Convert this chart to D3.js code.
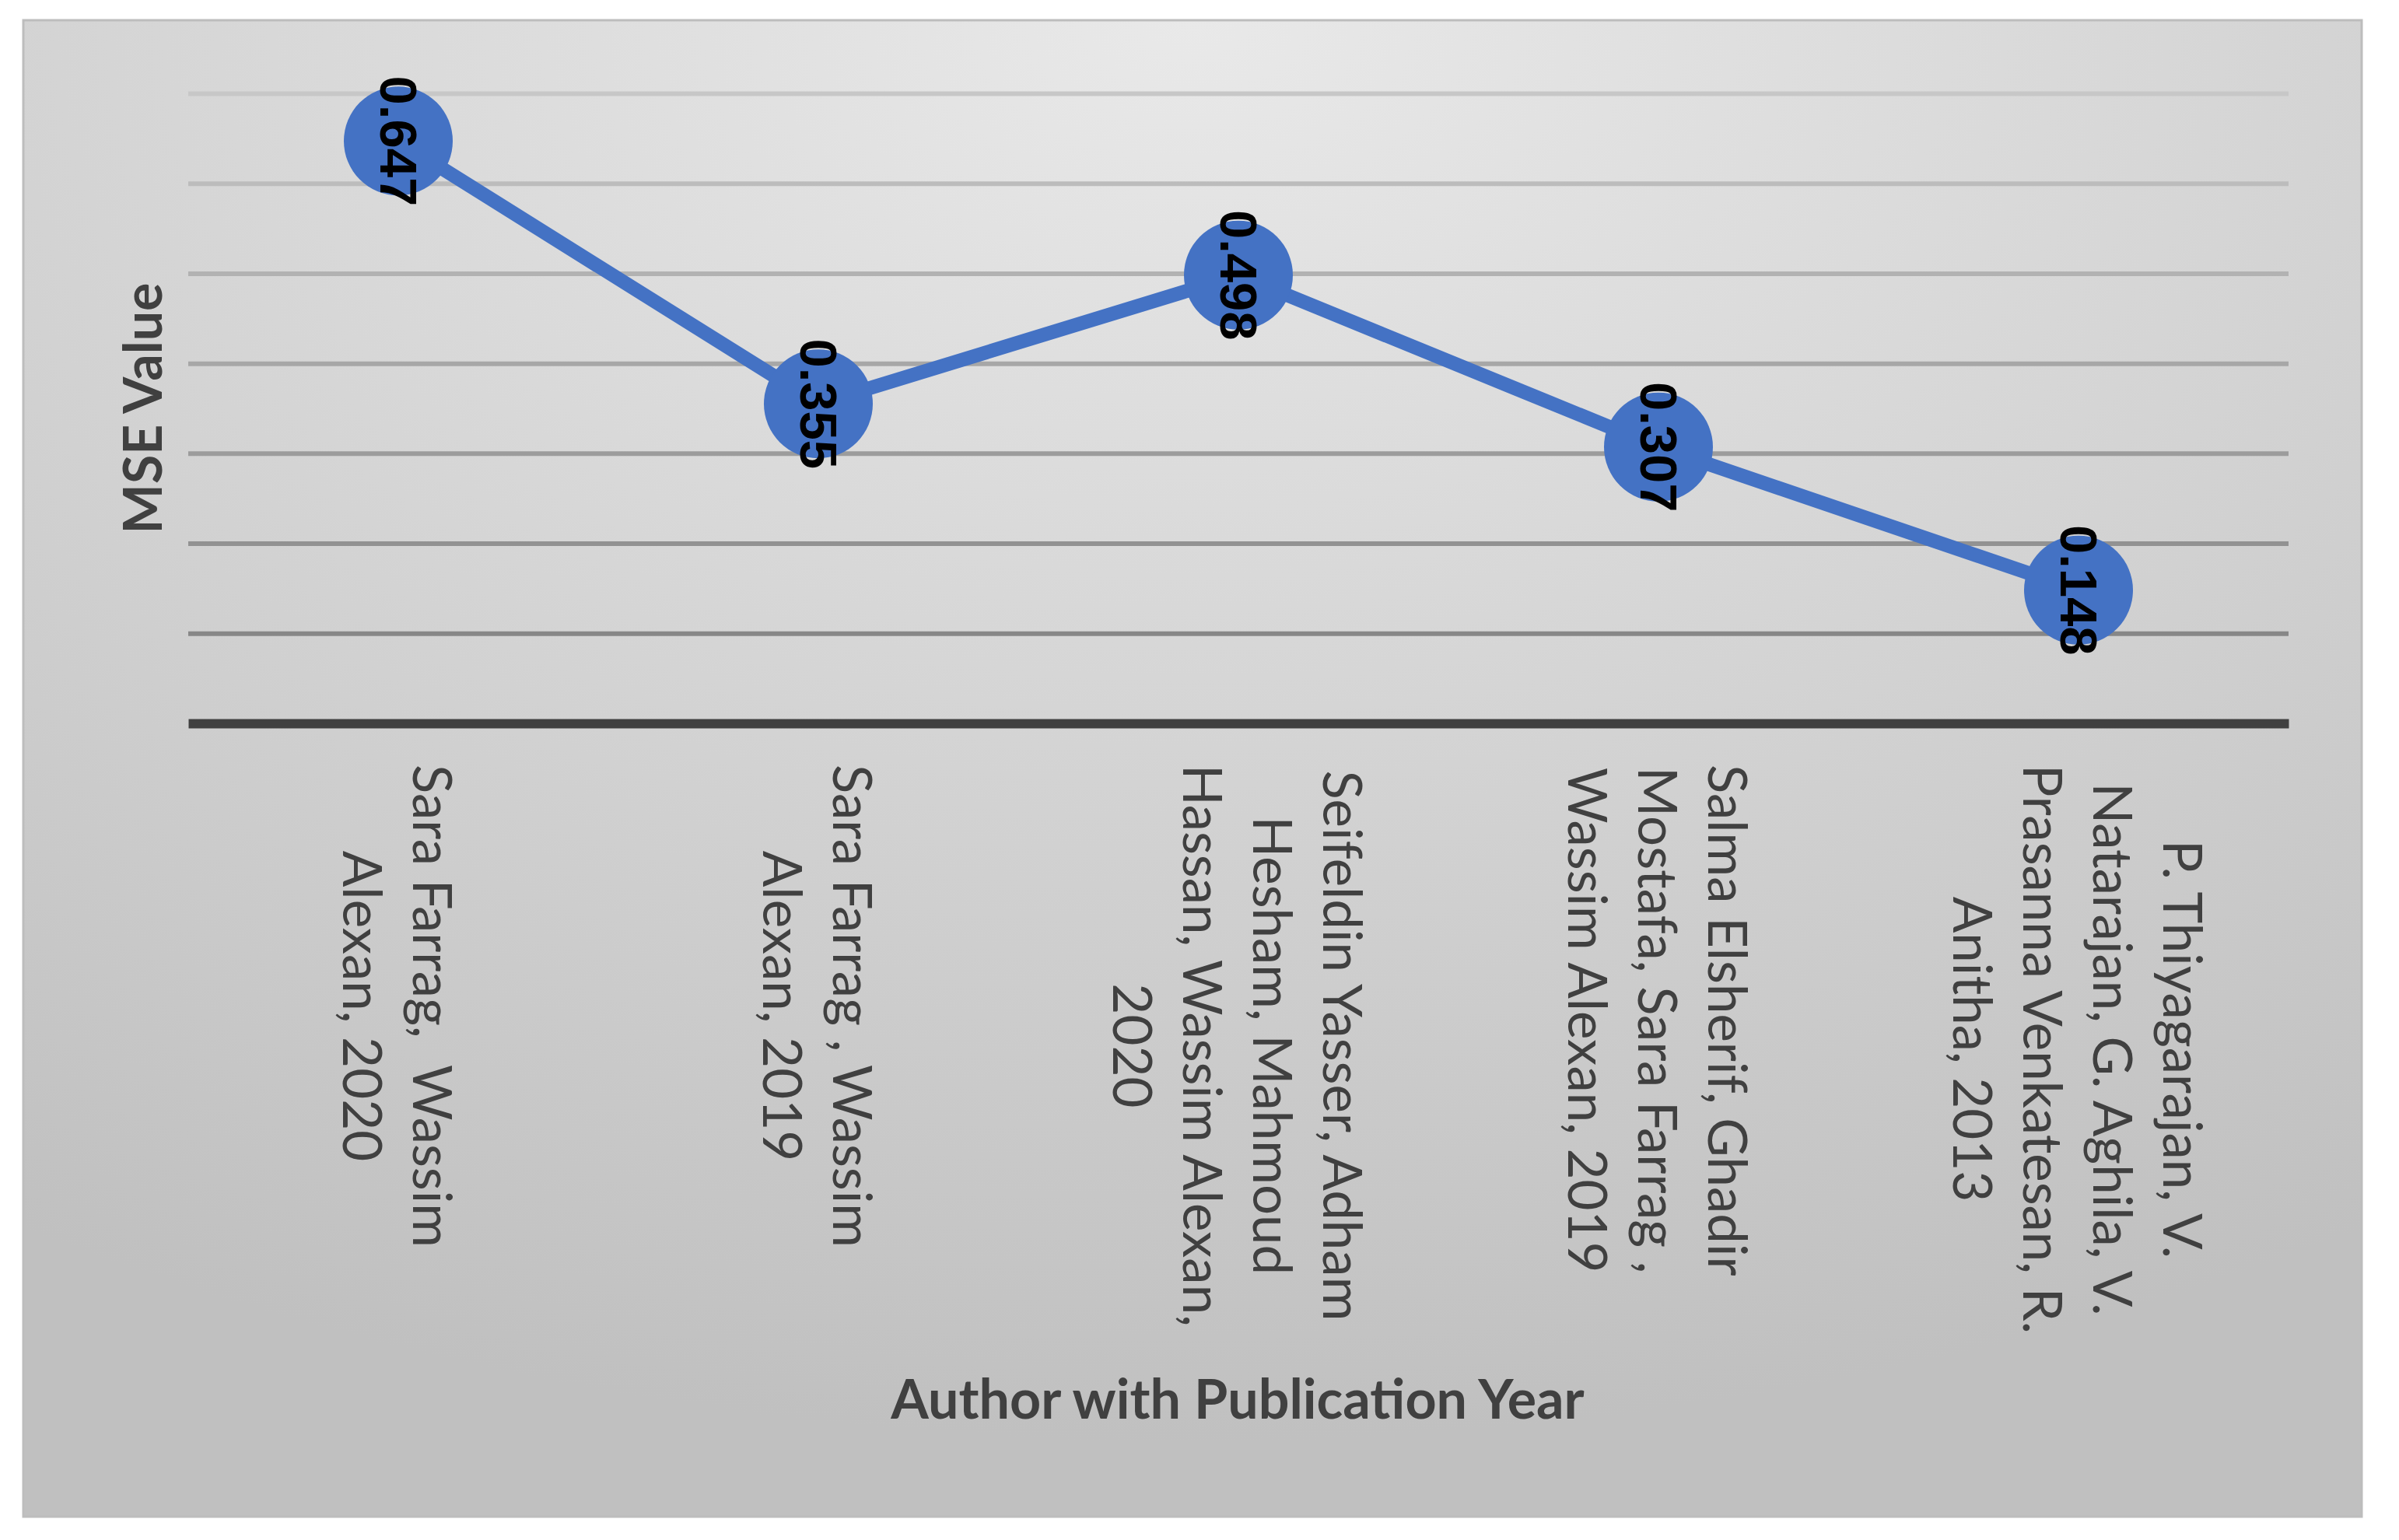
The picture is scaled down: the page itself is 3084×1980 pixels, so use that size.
<!DOCTYPE html>
<html>
<head>
<meta charset="utf-8">
<script src="https://cdn.jsdelivr.net/npm/d3@7"></script>
<style>
  html, body { margin: 0; padding: 0; background: #fff; }
  svg { display: block; }
  text { white-space: pre; }
</style>
</head>
<body>
<div class="container"></div>
<script>
// data
var categories = [
	["Sara Farrag,  Wassim", "Alexan, 2020"],
	["Sara Farrag , Wassim", "Alexan, 2019"],
	["Seifeldin Yasser, Adham", "Hesham, Mahmoud", "Hassan, Wassim Alexan,", "2020"],
	["Salma Elsherif, Ghadir", "Mostafa, Sara Farrag ,", "Wassim Alexan, 2019"],
	["P. Thiyagarajan, V.", "Natarajan, G. Aghila, V.", "Prasanna Venkatesan, R.", "Anitha, 2013"]
];
var mse_values = [0.647, 0.355, 0.498, 0.307, 0.148];
var grid_values = [0.1, 0.2, 0.3, 0.4, 0.5, 0.6, 0.7];
var y_title = "MSE Value";
var x_title = "Author with Publication Year";

var W = 3084, H = 1980;
var margin = {top: 120, right: 142, bottom: 1050, left: 242},
	width = W - margin.left - margin.right,
	height = H - margin.top - margin.bottom;

var svg = d3.select(".container").append("svg")
	.attr("width", W)
	.attr("height", H);

// panel background
var defs = svg.append("defs");
var grad = defs.append("radialGradient")
	.attr("id", "bg")
	.attr("cx", "50%").attr("cy", "0%").attr("r", "95%")
	.attr("fx", "50%").attr("fy", "0%");
grad.append("stop").attr("offset", "0%").attr("stop-color", "#e9e9e9");
grad.append("stop").attr("offset", "100%").attr("stop-color", "#c0c0c0");

svg.append("rect")
	.attr("x", 30).attr("y", 26)
	.attr("width", 3006).attr("height", 1924)
	.attr("fill", "url(#bg)")
	.attr("stroke", "#bdbdbd")
	.attr("stroke-width", 3);

var canvas = svg.append("g")
	.attr("transform", "translate(" + margin.left + "," + margin.top + ")");

var x_scale = d3.scalePoint()
	.domain(d3.range(mse_values.length))
	.range([0, width])
	.padding(0.5);

var y_scale = d3.scaleLinear()
	.domain([0, 0.7])
	.range([height, 0]);

var grid_color = d3.scaleLinear()
	.domain([0.1, 0.7])
	.range(["#878787", "#c7c7c7"]);

// gridlines
var grid = canvas.append("g")
	.call(d3.axisLeft(y_scale)
		.tickValues(grid_values)
		.tickSize(-width)
		.tickFormat(""));
grid.select(".domain").remove();
grid.selectAll(".tick line")
	.attr("stroke", function(d) { return grid_color(d); })
	.attr("stroke-width", 6);

// bottom axis line
var x_axis = canvas.append("g")
	.attr("transform", "translate(0," + height + ")")
	.call(d3.axisBottom(x_scale).tickSize(0).tickSizeOuter(0).tickFormat(""));
x_axis.select(".domain")
	.attr("stroke", "#404040")
	.attr("stroke-width", 12);

// line
var line = d3.line()
	.x(function(d, i) { return x_scale(i); })
	.y(function(d) { return y_scale(d); });

canvas.append("path")
	.attr("d", line(mse_values))
	.attr("fill", "none")
	.attr("stroke", "#4472C4")
	.attr("stroke-width", 18)
	.attr("stroke-linejoin", "round");

canvas.selectAll("circle.pt")
	.data(mse_values)
	.enter().append("circle")
	.attr("class", "pt")
	.attr("cx", function(d, i) { return x_scale(i); })
	.attr("cy", function(d) { return y_scale(d); })
	.attr("r", 70)
	.attr("fill", "#4472C4");

// data labels, rotated
canvas.selectAll("text.val")
	.data(mse_values)
	.enter().append("text")
	.attr("class", "val")
	.attr("transform", function(d, i) {
		return "translate(" + x_scale(i) + "," + y_scale(d) + ") rotate(90)";
	})
	.attr("text-anchor", "middle")
	.attr("dominant-baseline", "central")
	.attr("font-family", "'Liberation Sans', Arial, sans-serif")
	.attr("font-weight", "bold")
	.attr("font-size", 67)
	.attr("fill", "#000")
	.text(function(d) { return d; });

// category labels
var line_h = 90;
var label_top = 983 - margin.top;
categories.forEach(function(lines, i) {
	var g = canvas.append("g")
		.attr("transform", "translate(" + x_scale(i) + "," + label_top + ") rotate(90)");
	var texts = g.selectAll("text")
		.data(lines)
		.enter().append("text")
		.attr("y", function(d, j) { return (j - (lines.length - 1) / 2) * line_h; })
		.attr("text-anchor", "middle")
		.attr("dominant-baseline", "central")
		.attr("font-family", "Lato, 'Open Sans', sans-serif")
		.attr("font-size", 69)
		.attr("fill", "#404040")
		.text(function(d) { return d; });
	var max_len = 0;
	texts.each(function() { max_len = Math.max(max_len, this.getComputedTextLength()); });
	texts.attr("x", max_len / 2);
});

// axis titles
svg.append("text")
	.attr("transform", "translate(208,525) rotate(-90)")
	.attr("text-anchor", "middle")
	.attr("font-family", "Lato, 'Open Sans', sans-serif")
	.attr("font-weight", "bold")
	.attr("font-size", 68)
	.attr("fill", "#404040")
	.text(y_title);

svg.append("text")
	.attr("x", 1591)
	.attr("y", 1824)
	.attr("text-anchor", "middle")
	.attr("font-family", "Lato, 'Open Sans', sans-serif")
	.attr("font-weight", "bold")
	.attr("font-size", 70)
	.attr("fill", "#404040")
	.text(x_title);
</script>
</body>
</html>
